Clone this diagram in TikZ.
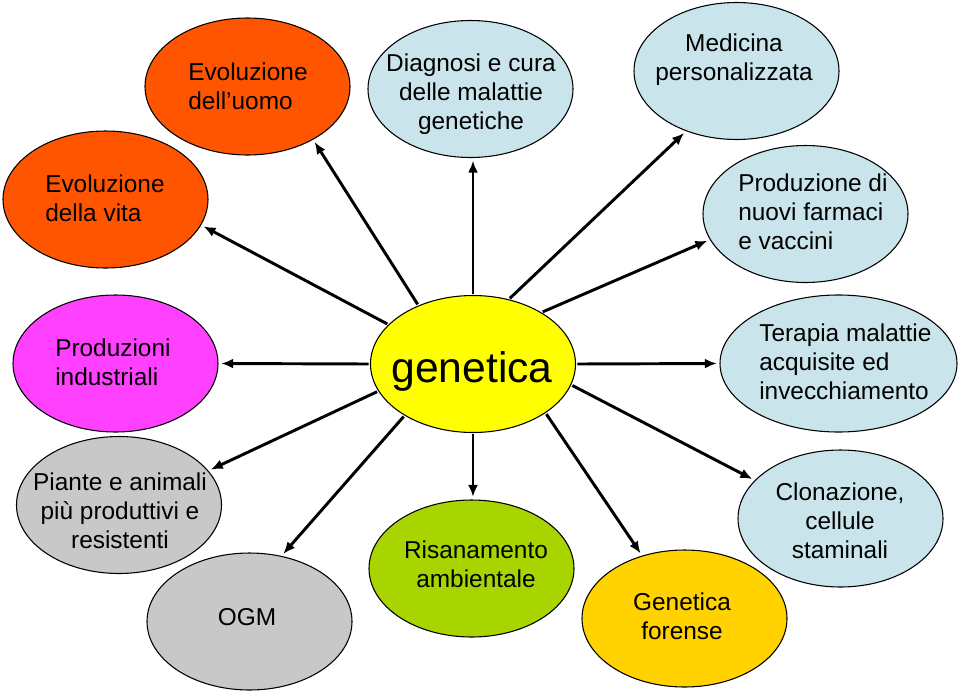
\documentclass[tikz,border=0pt]{standalone}
\usepackage{fontspec}
\setmainfont{Liberation Sans}
\usetikzlibrary{shapes.geometric,arrows.meta}
\definecolor{corange}{HTML}{FF5500}
\definecolor{cblue}{HTML}{C9E5EB}
\definecolor{cmagenta}{HTML}{FF40FF}
\definecolor{cgray}{HTML}{C8C8C8}
\definecolor{cgreen}{HTML}{A8D400}
\definecolor{cgold}{HTML}{FFD200}
\definecolor{cyellow}{HTML}{FFFF00}
\begin{document}
\begin{tikzpicture}[x=0.75pt,y=-0.75pt,
  bub/.style={ellipse, draw=black, line width=0.8pt, minimum width=153.75pt, minimum height=102.75pt, inner sep=0pt},
  lbl/.style={font=\fontsize{18.3}{21.6}\selectfont, inner sep=0pt, text=black},
  arr/.style={-{Latex[length=9pt,width=7.5pt]}, line width=2.2pt, shorten >=2pt, shorten <=1pt}]
\useasboundingbox (0,0) rectangle (960,693);
% bubbles
\node[bub, fill=cyellow] (g) at (473,364) {};
\node[bub, fill=corange] (vita) at (105.5,199.5) {};
\node[bub, fill=corange] (uomo) at (247.5,86.5) {};
\node[bub, fill=cblue] (diag) at (470.5,89) {};
\node[bub, fill=cblue] (medi) at (736.5,71) {};
\node[bub, fill=cblue] (farm) at (805.5,214) {};
\node[bub, fill=cblue, minimum width=177.75pt] (tera) at (838.5,363.5) {};
\node[bub, fill=cblue] (clon) at (840.5,518.5) {};
\node[bub, fill=cgold] (fore) at (684.5,618.5) {};
\node[bub, fill=cgreen] (risa) at (471.5,568.5) {};
\node[bub, fill=cgray] (ogm) at (249.5,621.5) {};
\node[bub, fill=cgray] (pian) at (119,505) {};
\node[bub, fill=cmagenta] (prod) at (115.5,363.5) {};
% labels
\node[inner sep=0pt, font=\fontsize{32}{36}\selectfont] (tg) at (472,371) {genetica};
\node[lbl, align=left, anchor=west] (tvita) at (45,198) {Evoluzione\\della vita};
\node[lbl, align=left, anchor=west] (tuomo) at (188,86.5) {Evoluzione\\dell’uomo};
\node[lbl, align=center] (tdiag) at (471,94) {Diagnosi e cura\\delle malattie\\genetiche};
\node[lbl, align=center] (tmedi) at (734,60) {Medicina\\personalizzata};
\node[lbl, align=left, anchor=west] (tfarm) at (738,212) {Produzione di\\nuovi farmaci\\e vaccini};
\node[lbl, align=left, anchor=west] (ttera) at (759,362) {Terapia malattie\\acquisite ed\\invecchiamento};
\node[lbl, align=center] (tclon) at (840,521) {Clonazione,\\cellule\\staminali};
\node[lbl, align=center] (tfore) at (682,616) {Genetica\\forense};
\node[lbl, align=center] (trisa) at (476,564.5) {Risanamento\\ambientale};
\node[lbl, align=center] (togm) at (247,617) {OGM};
\node[lbl, align=center] (tpian) at (120,510.5) {Piante e animali\\più produttivi e\\resistenti};
\node[lbl, align=left, anchor=west] (tprod) at (55,362.5) {Produzioni\\industriali};
% arrows
\draw[arr] (g.155.6) -- (vita.-15.9);
\draw[arr] (g.133.6) -- (uomo.-39.5);
\draw[arr] (g.north) -- (g.north |- diag.south);
\draw[arr] (g.61) -- (medi.-130.7);
\draw[arr] (g.37.4) -- (farm.195.6);
\draw[arr] (g.east) -- (tera.west);
\draw[arr] (g.-12.6) -- (clon.156.1);
\draw[arr] (g.-34.4) -- (fore.124);
\draw[arr] (g.south) -- (g.south |- risa.north);
\draw[arr] (g.-143.5) -- (ogm.64.5);
\draw[arr] (g.196.6) -- (pian.21);
\draw[arr] (g.west) -- (prod.east);
\end{tikzpicture}
\end{document}
